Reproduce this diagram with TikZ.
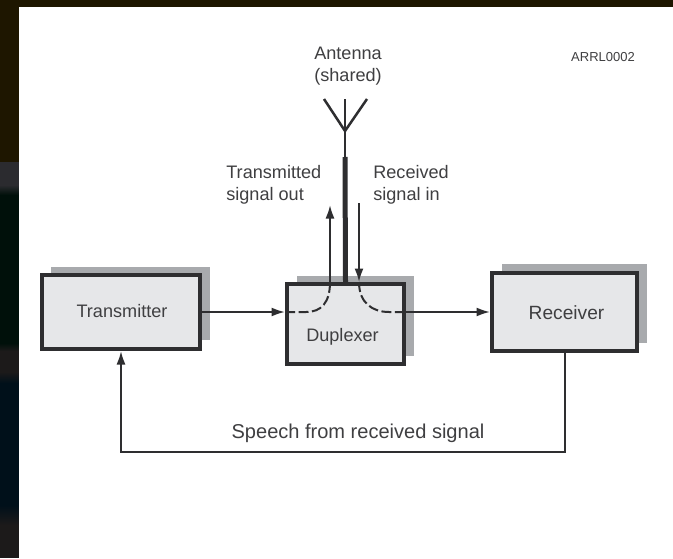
\documentclass[tikz,border=0pt]{standalone}
\usepackage{fontspec}
\setmainfont{Liberation Sans}
\usetikzlibrary{arrows.meta,calc,positioning}
\definecolor{arInk}{HTML}{2E2E30}
\definecolor{arText}{HTML}{3F3F41}
\definecolor{arPanel}{HTML}{E6E7E9}
\definecolor{arShade}{HTML}{A8AAAD}
\definecolor{arBrown}{HTML}{1E1600}
\definecolor{arGrey}{HTML}{2B2B2F}
\definecolor{arMoss}{HTML}{00100A}
\definecolor{arNight}{HTML}{00101A}
\definecolor{arSoot}{HTML}{1C1A1A}
\tikzset{
  arblock/.style={
    draw=arInk,
    fill=arPanel,
    line width=0.08cm,
    align=center,
    inner sep=0pt,
    text=arText,
    font=\fontsize{10.4}{12.5}\selectfont
  },
  arshadow/.style={draw=none, fill=arShade, inner sep=0pt},
  arlabel/.style={align=left, inner sep=0pt, text=arText, font=\fontsize{10.3}{12.5}\selectfont},
  arwire/.style={draw=arInk, line width=0.04cm},
  ararrow/.style={arwire, -{Latex[length=0.27cm,width=0.18cm]}},
  ardash/.style={arwire, dash pattern=on 0.2cm off 0.07cm}
}
\begin{document}
\begin{tikzpicture}
  \useasboundingbox (0,0) rectangle (13.46,11.16);
  \fill[arBrown] (0,0) rectangle (13.46,11.16);
  \fill[arGrey] (0,7.92) rectangle (0.38,7.46);
  \shade[top color=arGrey, bottom color=arMoss] (0,7.46) rectangle (0.38,7.26);
  \fill[arMoss] (0,7.26) rectangle (0.38,4.3);
  \shade[top color=arMoss, bottom color=arSoot] (0,4.3) rectangle (0.38,4.14);
  \fill[arSoot] (0,4.14) rectangle (0.38,3.72);
  \shade[top color=arSoot, bottom color=arNight] (0,3.72) rectangle (0.38,3.5);
  \fill[arNight] (0,3.5) rectangle (0.38,1.06);
  \shade[top color=arNight, bottom color=arSoot] (0,1.06) rectangle (0.38,0.66);
  \fill[arSoot] (0,0.66) rectangle (0.38,0);
  \fill[white] (0.38,0) rectangle (13.46,11.02);

  \node[arshadow, minimum width=3.18cm, minimum height=1.46cm] (txshadow) at (2.61,5.09) {};
  \node[arshadow, minimum width=2.34cm, minimum height=1.6cm] (dupshadow) at (7.11,4.84) {};
  \node[arshadow, minimum width=2.9cm, minimum height=1.58cm] (rxshadow) at (11.49,5.09) {};

  \node[arblock, minimum width=3.16cm, minimum height=1.48cm] (tx) at (2.42,4.92) {};
  \node[arblock, minimum width=2.34cm, minimum height=1.6cm] (dup) at (6.91,4.68) {};
  \node[arblock, minimum width=2.9cm, minimum height=1.56cm] (rx) at (11.29,4.92) {};
  \node[arlabel] (txname) at (2.44,4.94) {Transmitter};
  \node[arlabel] (dupname) at (6.85,4.42) {Duplexer};
  \node[arlabel, font=\fontsize{10.9}{12.5}\selectfont] (rxname) at (11.33,4.9) {Receiver};

  \coordinate (antbase) at (6.9,8.54);
  \coordinate (antfeed) at (6.9,8.02);
  \coordinate (antleft) at (6.48,9.18);
  \coordinate (antmid) at (6.9,9.18);
  \coordinate (antright) at (7.34,9.18);
  \coordinate (txout) at (6.6,7.06);
  \coordinate (rxin) at (7.18,7.1);
  \coordinate (txtap) at (dup.north -| txout);
  \coordinate (rxtap) at (dup.north -| rxin);
  \coordinate (txentry) at (dup.west |- tx.east);
  \coordinate (rxexit) at (dup.east |- rx.west);

  \draw[arwire, line width=0.05cm] (antleft) -- (antbase) -- (antright);
  \draw[arwire, line width=0.05cm] (antmid) -- (antfeed);
  \draw[arwire, line width=0.1cm] (antfeed) -- (dup.north);

  \draw[ararrow] (tx.east) -- (txentry);
  \draw[ardash] (txentry) -- ++(0.42,0) .. controls +(0.3,0) and (6.6,5.1) .. (txtap);
  \draw[ararrow] (txtap) -- (txout);
  \draw[ararrow] (rxin) -- (rxtap);
  \draw[ardash] (rxtap) .. controls (7.18,5.1) and (7.45,4.92) .. (7.78,4.92) -- (rxexit);
  \draw[ararrow] (rxexit) -- (rx.west);
  \draw[ararrow] (rx.south) -- ++(0,-1.98) -| (tx.south);

  \node[arlabel, align=center] (antlabel) at (6.96,9.84) {Antenna\\(shared)};
  \node[arlabel, anchor=west] (txlabel) at (4.52,7.46) {Transmitted\\signal out};
  \node[arlabel, anchor=west] (rxlabel) at (7.46,7.46) {Received\\signal in};
  \node[arlabel, font=\fontsize{11.4}{13}\selectfont] (speechlabel) at (7.16,2.5) {Speech from received signal};
  \node[arlabel, font=\fontsize{7.4}{9}\selectfont] (figlabel) at (12.06,10.02) {ARRL0002};
\end{tikzpicture}
\end{document}
